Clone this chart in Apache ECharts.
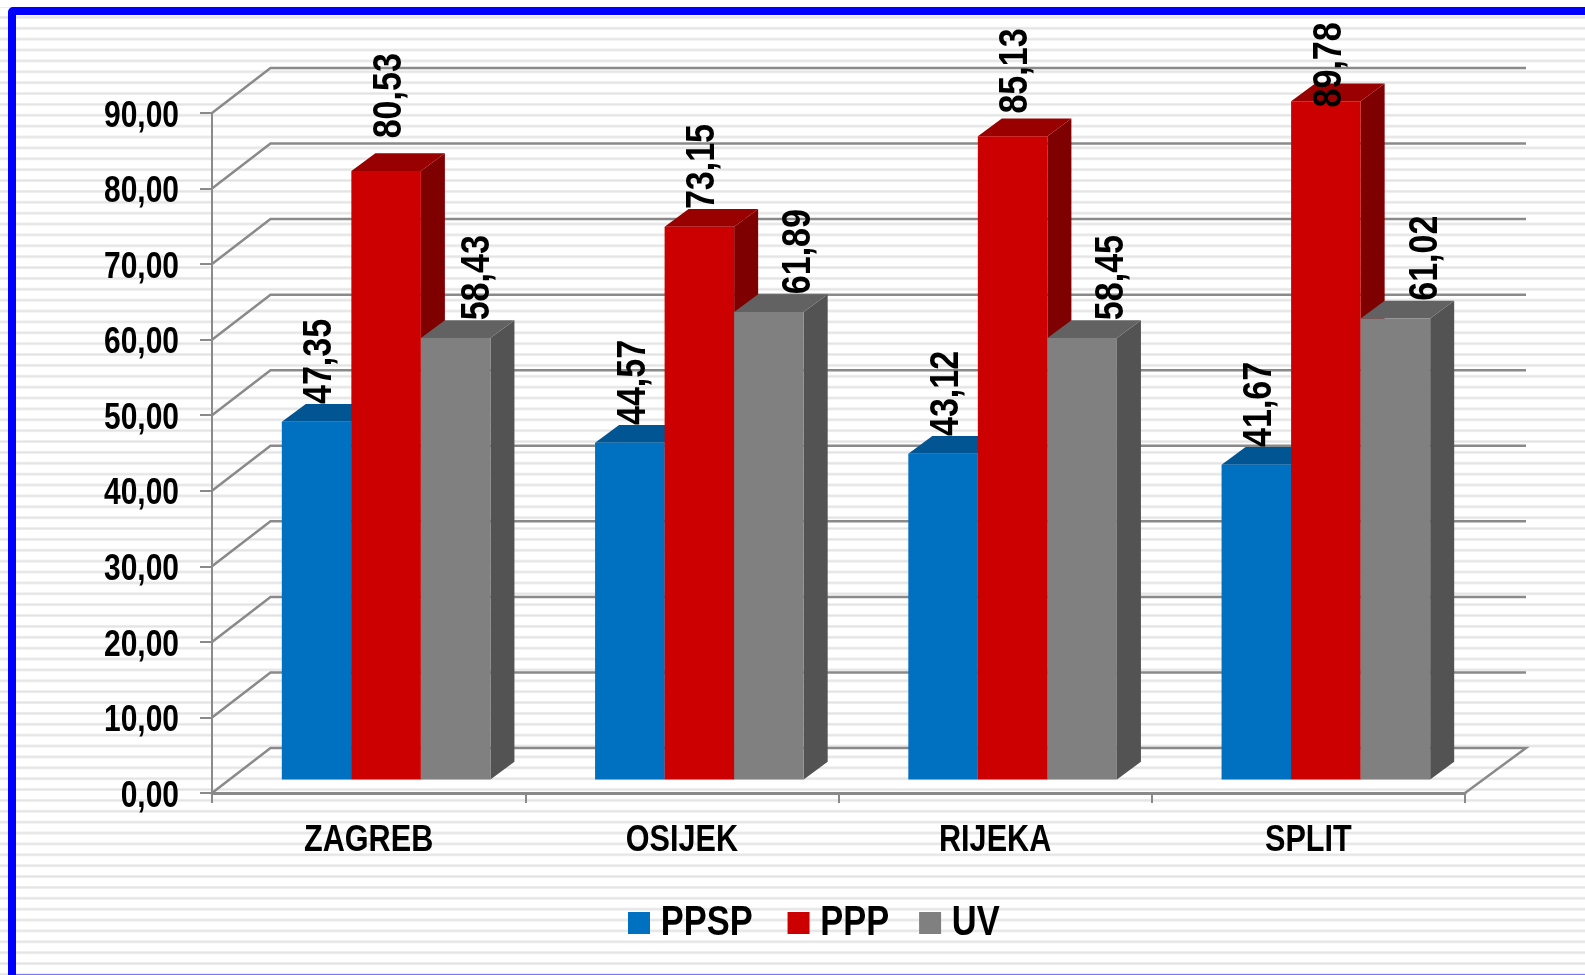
<!DOCTYPE html>
<html>
<head>
<meta charset="utf-8">
<style>
html,body{margin:0;padding:0;background:#fff;overflow:hidden}
#stripes{position:absolute;left:0;top:7px;width:1585px;height:968px;
 background-image:linear-gradient(to bottom,#fff 0,#fff 35%,#e3e3e3 44%,#e3e3e3 56%,#fff 65%,#fff 100%);
 background-size:100% 10.88px;background-position:0 4.98px}
#frame{position:absolute;left:8px;top:7px;width:1600px;height:979px;box-sizing:border-box;border:8px solid #0000ff;border-radius:5px 0 0 0}
#bottomLine{position:absolute;left:16px;top:974px;width:1569px;height:1px;background:#7a7af0}
#chart{position:absolute;left:0;top:0;width:1585px;height:975px}
</style>
<script src="https://cdn.jsdelivr.net/npm/echarts@6/dist/echarts.min.js"></script>
</head>
<body>
<div id="stripes"></div>
<div id="frame"></div>
<div id="bottomLine"></div>
<div id="chart"></div>
<script>
const categories = ['ZAGREB', 'OSIJEK', 'RIJEKA', 'SPLIT'];
const seriesNames = ['PPSP', 'PPP', 'UV'];
const ppsp = [47.35, 44.57, 43.12, 41.67];
const ppp = [80.53, 73.15, 85.13, 89.78];
const uv = [58.43, 61.89, 58.45, 61.02];
const yTicks = [0, 10, 20, 30, 40, 50, 60, 70, 80, 90];

const fmt = v => v.toFixed(2).replace('.', ',');
const FONT = '"Liberation Sans", Arial, sans-serif';
const AXIS = '#8a8a8a';

// oblique projection of the 3D look
const WALL = { dx: 58.5, dxRight: 61, dy: -45 };
const FRONT = { dx: 17.5, dy: -13.5 };
const DEPTH = { dx: 24, dy: -17.7 };
const GAP = 33.4;              // category gap in %
// horizontal squeeze that stands in for the original's narrow typeface
const SQUEEZE = { tick: 0.81, category: 0.85, legend: 0.82, value: 0.83 };
const TICK_LABEL_DROP = 3.5;
// placement of the data labels
const labelShiftX = [3.5, 3.5, 30];
const labelNudge = { '1:0': { up: 15 }, '1:2': { up: 5 }, '1:3': { up: -24 }, '2:0': { x: -8 } };

function wallItem(params, api) {
  const c = params.coordSys;
  const y = api.coord([0, api.value(1)])[1];
  const x0 = c.x, x1 = c.x + c.width;
  const pts = [[x0, y], [x0 + WALL.dx, y + WALL.dy], [x1 + WALL.dxRight, y + WALL.dy]];
  if (api.value(1) === 0) pts.push([x1, y]);
  return { type: 'polyline', silent: true, shape: { points: pts }, style: { stroke: AXIS, lineWidth: 2.5, fill: null } };
}

function barItemFactory(slot, colors) {
  return function (params, api) {
    const cat = api.value(0), val = api.value(1);
    const band = api.size([1, 0])[0];
    const w = band * (1 - GAP / 100) / 3;
    const base = api.coord([cat, 0]);
    const top = api.coord([cat, val]);
    const l = base[0] - 1.5 * w + slot * w + FRONT.dx;
    const r = l + w;
    const yb = base[1] + FRONT.dy;
    const yt = top[1] + FRONT.dy;
    const d = DEPTH;
    const nudge = labelNudge[slot + ':' + cat] || {};
    return {
      type: 'group',
      children: [
        { type: 'polygon', shape: { points: [[r, yt], [r + d.dx, yt + d.dy], [r + d.dx, yb + d.dy], [r, yb]] }, style: { fill: colors.side } },
        { type: 'polygon', shape: { points: [[l, yt], [l + d.dx, yt + d.dy], [r + d.dx, yt + d.dy], [r, yt]] }, style: { fill: colors.top } },
        { type: 'rect', shape: { x: l, y: yt, width: w, height: yb - yt }, style: { fill: colors.front } },
        {
          type: 'text', rotation: Math.PI / 2, scaleX: SQUEEZE.value,
          x: l + w / 2 + labelShiftX[slot] + (nudge.x || 0), y: yt + d.dy - (nudge.up || 0),
          style: { text: fmt(val), fill: '#000', font: 'bold 41px ' + FONT, textAlign: 'left', textVerticalAlign: 'middle' },
          z2: 50
        }
      ]
    };
  };
}

function barSeries(name, values, slot, colors) {
  return {
    name, type: 'custom', coordinateSystem: 'cartesian2d', clip: false,
    itemStyle: { color: colors.front },
    encode: { x: 0, y: 1 },
    data: values.map((v, i) => [i, v]),
    renderItem: barItemFactory(slot, colors)
  };
}

const chart = echarts.init(document.getElementById('chart'), null, { renderer: 'canvas' });
chart.setOption({
  animation: false,
  backgroundColor: 'transparent',
  grid: { left: 212, right: 120, top: 113, bottom: 182, containLabel: false },
  legend: {
    data: seriesNames, left: 628, top: 902, padding: 0, icon: 'rect', itemWidth: 22, itemHeight: 22,
    itemGap: 13.5, selectedMode: false,
    textStyle: { fontFamily: FONT, fontWeight: 'bold', fontSize: 42, color: '#000', padding: [0, 0, 0, 7] }
  },
  xAxis: {
    type: 'category', data: categories, boundaryGap: true,
    axisLine: { lineStyle: { color: AXIS, width: 3 } },
    axisTick: { show: true, length: 10, alignWithLabel: false, lineStyle: { color: AXIS, width: 2 } },
    axisLabel: { fontFamily: FONT, fontWeight: 'bold', fontSize: 36, color: '#000', margin: 30, interval: 0 },
    splitLine: { show: false }
  },
  yAxis: {
    type: 'value', min: 0, max: 90, interval: 10,
    axisLine: { show: true, lineStyle: { color: AXIS, width: 2 } },
    axisTick: { show: true, length: 12, lineStyle: { color: AXIS, width: 2 } },
    axisLabel: { fontFamily: FONT, fontWeight: 'bold', fontSize: 37, color: '#000', margin: 33, formatter: v => fmt(v) },
    splitLine: { show: false }
  },
  series: [
    { name: 'wall', type: 'custom', clip: false, silent: true, encode: { x: 0, y: 1 }, data: yTicks.map(t => [0, t]), renderItem: wallItem },
    barSeries('PPSP', ppsp, 0, { front: '#0070c0', top: '#005592', side: '#004a80' }),
    barSeries('PPP', ppp, 1, { front: '#cc0000', top: '#990000', side: '#7f0000' }),
    barSeries('UV', uv, 2, { front: '#808080', top: '#626262', side: '#535353' })
  ]
});

// Condense the axis and legend labels about their own anchors.
const tickTexts = yTicks.map(fmt);
chart.getZr().storage.traverse(function (el) {
  if (el.type !== 'text' || !el.style || el.style.text == null) return;
  const t = String(el.style.text);
  let s = null;
  if (tickTexts.includes(t)) { s = SQUEEZE.tick; el.y += TICK_LABEL_DROP; }
  else if (categories.includes(t)) s = SQUEEZE.category;
  else if (seriesNames.includes(t)) s = SQUEEZE.legend;
  if (s === null) return;
  el.originX = el.style.x || 0;
  el.scaleX = s;
  el.markRedraw();
});
chart.getZr().refresh();
</script>
</body>
</html>
